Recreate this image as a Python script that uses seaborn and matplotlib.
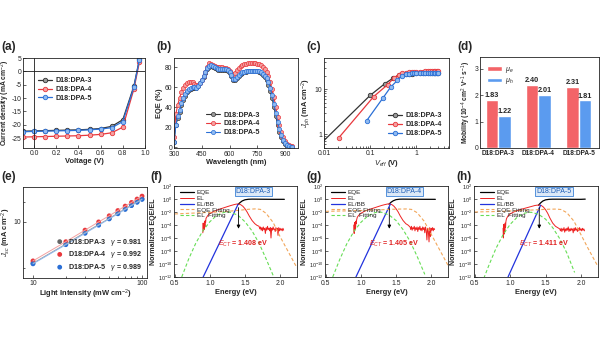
import numpy as np
import pandas as pd
import matplotlib
matplotlib.use("Agg")
import matplotlib.pyplot as plt
import seaborn as sns
from matplotlib.ticker import FixedLocator, NullFormatter, LogFormatterMathtext, NullLocator

# ---------------- data ----------------
blends = ['D18:DPA-3', 'D18:DPA-4', 'D18:DPA-5']

# (a) J-V
jv_voltage = [-0.1, 0.0, 0.1, 0.2, 0.3, 0.4, 0.5, 0.6, 0.7, 0.8, 0.9, 0.95]
jv_dpa3 = [-22.4, -22.3, -22.2, -22.1, -22.0, -21.9, -21.7, -21.4, -20.6, -18.1, -5.5, 4.6]
jv_dpa4 = [-24.6, -24.5, -24.4, -24.3, -24.2, -24.1, -23.9, -23.6, -23.0, -20.9, -6.6, 3.6]
jv_dpa5 = [-22.6, -22.5, -22.4, -22.3, -22.2, -22.1, -21.9, -21.6, -21.1, -18.8, -5.9, 4.4]

# (b) EQE
wavelength = list(range(300, 950, 10))
eqe_dpa3 = [5, 22, 29, 35, 42, 47, 51, 55, 57, 58,
            59, 59, 59, 61, 64, 67, 70, 74, 78, 80,
            81, 80, 79, 78, 77, 77, 77, 77, 77, 76,
            74, 71, 67, 67, 69, 71, 73, 74, 75, 75,
            76, 76, 76, 76, 76, 76, 75, 74, 72, 70,
            67, 62, 56, 49, 40, 31, 22, 15, 10, 6,
            3, 2, 1, 0.5, 0.3]
eqe_dpa4 = [10, 33, 42, 49, 55, 59, 62, 64, 65, 65,
            65, 63, 62, 62, 64, 67, 71, 75, 80, 84,
            83, 82, 81, 80, 80, 80, 80, 79, 79, 78,
            76, 74, 73, 74, 77, 79, 81, 82, 83, 83,
            84, 84, 84, 84, 84, 83, 83, 82, 80, 78,
            75, 71, 65, 58, 50, 40, 30, 22, 15, 10,
            6, 3, 2, 1, 1]
eqe_dpa5 = [5, 22, 31, 37, 44, 49, 53, 56, 58, 59,
            60, 60, 59, 61, 64, 67, 71, 75, 79, 81,
            82, 81, 80, 79, 78, 78, 78, 78, 78, 77,
            75, 72, 68, 68, 70, 72, 74, 75, 75, 76,
            76, 76, 76, 76, 76, 76, 76, 75, 73, 71,
            69, 65, 59, 52, 43, 34, 25, 18, 12, 7,
            4, 2, 1, 0.5, 0.3]

# (c) Jph - Veff
veff_plateau = [0.6, 0.7, 0.8, 0.9, 1.0, 1.2, 1.4, 1.6, 1.8, 2.0, 2.2, 2.4, 2.6, 2.8, 3.0]
veff_dpa3 = [0.01, 0.1, 0.21, 0.32, 0.42, 0.5] + veff_plateau
jph_dpa3 = [0.72, 7.2, 13.2, 17.6, 20.5, 21.5, 21.8, 22.0, 22.1, 22.2, 22.2, 22.3, 22.3,
            22.4, 22.4, 22.4, 22.5, 22.5, 22.5, 22.5, 22.6]
veff_dpa4 = [0.021, 0.12, 0.24, 0.33, 0.42, 0.5] + veff_plateau
jph_dpa4 = [0.83, 6.8, 12.5, 17.6, 21.0, 22.5, 23.2, 23.6, 23.9, 24.1, 24.2, 24.4, 24.5,
            24.6, 24.7, 24.8, 24.8, 24.9, 24.9, 25.0, 25.0]
veff_dpa5 = [0.085, 0.19, 0.28, 0.39, 0.49] + veff_plateau
jph_dpa5 = [2.0, 6.3, 11.0, 15.5, 19.5, 21.5, 22.0, 22.3, 22.5, 22.6, 22.7, 22.8, 22.9,
            23.0, 23.0, 23.1, 23.1, 23.2, 23.2, 23.2]

# (d) mobility
mu_e = [1.83, 2.40, 2.31]
mu_h = [1.22, 2.01, 1.81]

# (e) Jsc vs light intensity
light = [10, 20, 30, 40, 50, 60, 70, 80, 90, 100]
jsc_dpa3 = [2.35, 4.6, 6.9, 9.1, 11.3, 13.6, 15.8, 18.0, 20.2, 22.4]
jsc_dpa4 = [2.55, 5.0, 7.5, 10.0, 12.4, 14.9, 17.4, 19.8, 22.3, 24.7]
jsc_dpa5 = [2.3, 4.5, 6.7, 8.9, 11.1, 13.3, 15.5, 17.7, 19.9, 22.0]
gammas = ['0.981', '0.992', '0.989']

# (f)-(h) EQE / EL  (values as log10)
ect = [1.408, 1.405, 1.411]
el_E = ([0.900, 0.905, 0.910, 0.915, 0.920, 0.925, 0.930, 0.935, 0.940, 0.945, 0.950] +
        [0.97, 1.00, 1.05, 1.10, 1.15, 1.20, 1.25, 1.30, 1.35, 1.38, 1.41, 1.44, 1.47, 1.50,
         1.53, 1.56, 1.60, 1.64, 1.67] +
        list(np.round(np.arange(1.70, 2.055, 0.01), 3)))
f_el_log = ([-5.2, -3.7, -4.9, -3.9, -4.7, -3.5, -4.3, -3.3, -3.6, -3.0, -2.9] +
            [-2.55, -2.25, -1.95, -1.72, -1.52, -1.35, -1.17, -1.0, -0.85, -0.78, -0.77, -0.88,
             -1.12, -1.5, -2.0, -2.6, -3.3, -3.8, -4.05] +
            [-4.2, -4.6, -4.3, -4.8, -4.4, -4.9, -4.3, -4.7, -4.5, -5.3,
             -4.4, -4.8, -4.2, -4.7, -4.5, -4.9, -4.4, -6.0, -4.5, -4.8,
             -4.3, -4.7, -4.6, -5.0, -4.4, -4.8, -4.5, -5.6, -4.4, -4.9,
             -4.5, -4.8, -4.6, -4.9, -4.5, -4.8])
g_el_log = ([-4.0, -5.3, -3.6, -4.8, -3.9, -4.5, -3.4, -3.8, -3.2, -3.0, -2.8] +
            [-2.5, -2.2, -1.9, -1.68, -1.5, -1.33, -1.15, -0.98, -0.84, -0.77, -0.75, -0.85,
             -1.1, -1.48, -1.98, -2.6, -3.3, -3.8, -4.0] +
            [-4.3, -4.7, -4.2, -4.8, -4.4, -4.6, -4.2, -4.9, -4.4, -4.7,
             -4.3, -5.0, -4.4, -4.7, -4.2, -4.8, -4.5, -4.9, -4.3, -4.7,
             -4.4, -5.2, -4.3, -4.8, -6.3, -4.5, -4.9, -6.6, -4.4, -5.8,
             -4.5, -4.8, -4.4, -4.9, -4.5, -4.7])
h_el_log = ([-4.5, -6.0, -3.9, -5.4, -4.2, -5.0, -3.7, -4.4, -3.5, -3.2, -3.0] +
            [-2.6, -2.3, -2.0, -1.8, -1.6, -1.45, -1.3, -1.15, -1.0, -0.95, -0.93, -1.0,
             -1.25, -1.65, -2.2, -2.9, -3.7, -4.2, -4.4] +
            [-4.6, -4.9, -4.5, -5.0, -4.6, -4.8, -4.4, -5.1, -4.6, -4.9,
             -4.5, -4.8, -4.3, -5.0, -4.6, -4.9, -4.5, -4.8, -4.6, -5.2,
             -4.5, -4.9, -4.4, -4.8, -4.6, -5.0, -4.5, -4.9, -4.4, -4.8,
             -4.6, -4.9, -4.5, -4.8, -4.6, -4.9])

eqe_E = [1.40, 1.43, 1.46, 1.50, 1.55, 1.60, 1.70, 1.80, 1.90, 2.00, 2.06]
f_eqe_log = [-0.85, -0.55, -0.3, -0.12, -0.04, -0.02, -0.03, -0.04, -0.05, -0.05, -0.05]
g_eqe_log = [-0.8, -0.5, -0.28, -0.1, -0.03, -0.02, -0.03, -0.04, -0.05, -0.05, -0.05]
h_eqe_log = [-0.95, -0.6, -0.32, -0.13, -0.05, -0.03, -0.03, -0.04, -0.05, -0.05, -0.02]

f_bb_E, f_bb_log = [0.905, 1.40], [-12.0, -0.85]
g_bb_E, g_bb_log = [0.93, 1.42], [-12.0, -0.78]
h_bb_E, h_bb_log = [0.97, 1.43], [-12.0, -0.95]

eqefit_E = [0.50, 0.70, 0.90, 1.10, 1.30, 1.45, 1.55, 1.65, 1.72, 1.80, 1.90, 2.00, 2.10, 2.20, 2.24]
f_eqefit_log = [-2.3, -2.2, -2.1, -2.0, -1.85, -1.7, -1.58, -1.52, -1.6, -2.2, -3.6, -5.8, -7.8, -9.8, -10.6]
g_eqefit_log = [-1.9, -1.85, -1.8, -1.75, -1.65, -1.58, -1.55, -1.53, -1.6, -2.1, -3.4, -5.4, -7.4, -9.4, -10.2]
h_eqefit_log = [-2.0, -1.95, -1.9, -1.8, -1.7, -1.62, -1.57, -1.55, -1.62, -2.1, -3.4, -5.5, -7.6, -9.6, -10.4]

elfit_E = [0.60, 0.70, 0.80, 0.90, 1.00, 1.10, 1.20, 1.25, 1.30, 1.40, 1.50, 1.60, 1.70, 1.80, 1.91]
f_elfit_log = [-12.0, -9.2, -6.8, -4.9, -3.5, -2.5, -2.06, -2.0, -2.06, -2.5, -3.5, -4.9, -6.8, -9.2, -12.0]
g_elfit_log = [-12.0, -9.3, -6.9, -5.0, -3.6, -2.6, -2.1, -2.0, -2.05, -2.45, -3.3, -4.7, -6.5, -8.8, -11.6]
h_elfit_log = [-13.0, -10.2, -7.6, -5.5, -3.9, -2.8, -2.2, -2.05, -2.05, -2.35, -3.1, -4.4, -6.1, -8.3, -11.3]

# ---------------- style ----------------
sns.set_theme(style="ticks")
plt.rcParams['font.family'] = ['Liberation Sans', 'DejaVu Sans']
plt.rcParams['mathtext.fontset'] = 'custom'
plt.rcParams['mathtext.rm'] = 'Liberation Sans'
plt.rcParams['mathtext.it'] = 'Liberation Sans:italic'
plt.rcParams['mathtext.bf'] = 'Liberation Sans:bold'
plt.rcParams['axes.linewidth'] = 0.6

K, R, B = '#333333', '#e8383d', '#2a6fd6'
KF, RF, BF = '#9a9a9a', '#f4a0a0', '#8fbaf0'
TS = 4.9   # tick size
LS = 5.4   # label size

fig = plt.figure(figsize=(6, 3.38), dpi=100)


def ax_at(x0, y0, x1, y1):
    W, H = 600.0, 338.0
    return fig.add_axes([x0 / W, 1 - y1 / H, (x1 - x0) / W, (y1 - y0) / H])


def style(ax):
    ax.tick_params(which='both', direction='in', labelsize=TS, pad=1.2, width=0.5)
    ax.tick_params(which='major', length=2.2)
    ax.tick_params(which='minor', length=1.2)
    for s in ax.spines.values():
        s.set_linewidth(0.6)
        s.set_color('#222222')


def leg(ax, **kw):
    opts = dict(frameon=False, prop={'size': 5.1, 'weight': 'bold'}, handlelength=2.0,
                handletextpad=0.5, labelspacing=0.25, borderpad=0.2)
    opts.update(kw)
    return ax.legend(**opts)


series = [(blends[0], K, KF), (blends[1], R, RF), (blends[2], B, BF)]

# ---- (a)
ax = ax_at(23, 58, 145, 148)
for (name, c, fc), J in zip(series, [jv_dpa3, jv_dpa4, jv_dpa5]):
    sns.lineplot(x=jv_voltage, y=J, ax=ax, color=c, marker='o', markersize=3.2,
                 markerfacecolor=fc, markeredgecolor=c, markeredgewidth=0.6,
                 linewidth=0.9, label=name, sort=False)
ax.axhline(0, color='k', lw=0.6)
ax.axvline(0, color='k', lw=0.6)
ax.set_xlim(-0.1, 1.0)
ax.set_ylim(-28.7, 5)
ax.set_xticks([0.0, 0.2, 0.4, 0.6, 0.8, 1.0])
ax.set_xticklabels(['0.0', '0.2', '0.4', '0.6', '0.8', '1.0'])
ax.set_yticks([5, 0, -5, -10, -15, -20, -25])
ax.set_yticklabels(['5', '0', '-5', '-10', '-15', '-20', '-25'])
ax.set_xlabel('Voltage (V)', fontsize=LS, fontweight='bold', labelpad=1)
ax.set_ylabel('Current density (mA cm$^{-2}$)', fontsize=4.9, fontweight='bold')
ax.yaxis.set_label_coords(-0.088, 0.5)
style(ax)
leg(ax, loc='upper left', bbox_to_anchor=(0.08, 0.84))

# ---- (b)
ax = ax_at(174, 58, 298, 148)
for (name, c, fc), Q in zip(series, [eqe_dpa3, eqe_dpa4, eqe_dpa5]):
    sns.lineplot(x=wavelength, y=Q, ax=ax, color=c, marker='o', markersize=3.0,
                 markerfacecolor=fc, markeredgecolor=c, markeredgewidth=0.5,
                 linewidth=0.8, label=name)
ax.set_xlim(300, 970)
ax.set_ylim(-1, 89)
ax.set_xticks([300, 450, 600, 750, 900])
ax.set_yticks([0, 20, 40, 60, 80])
ax.set_xlabel('Wavelength (nm)', fontsize=LS, fontweight='bold', labelpad=1)
ax.set_ylabel('EQE (%)', fontsize=LS, fontweight='bold', labelpad=1)
style(ax)
ax.tick_params(axis='x', pad=2.0)
leg(ax, loc='upper left', bbox_to_anchor=(0.22, 0.46))

# ---- (c)
ax = ax_at(324, 58, 449, 148)
ax.set_xscale('log')
ax.set_yscale('log')
for (name, c, fc), V, J in zip(series, [veff_dpa3, veff_dpa4, veff_dpa5],
                               [jph_dpa3, jph_dpa4, jph_dpa5]):
    mev = slice(1, None) if name == blends[0] else None
    sns.lineplot(x=V, y=J, ax=ax, color=c, marker='o', markersize=3.2,
                 markerfacecolor=fc, markeredgecolor=c, markeredgewidth=0.6,
                 linewidth=0.9, label=name, markevery=mev)
ax.set_xlim(0.01, 5.2)
ax.set_ylim(0.49, 49)
ax.xaxis.set_major_locator(FixedLocator([0.01, 0.1, 1]))
ax.set_xticklabels(['0.01', '0.1', '1'])
ax.yaxis.set_major_locator(FixedLocator([1, 10]))
ax.set_yticklabels(['1', '10'])
ax.yaxis.set_minor_formatter(NullFormatter())
ax.xaxis.set_minor_formatter(NullFormatter())
ax.set_xlabel('$V_{eff}$ (V)', fontsize=LS, fontweight='bold', labelpad=1)
ax.set_ylabel('$J_{ph}$ (mA cm$^{-2}$)', fontsize=LS, fontweight='bold', labelpad=1)
style(ax)
leg(ax, loc='upper left', bbox_to_anchor=(0.47, 0.45))

# ---- (d)
ax = ax_at(480, 57, 599, 148)
df_mob = pd.DataFrame({'blend': blends + blends,
                       'mu': mu_e + mu_h,
                       'carrier': [r'$\mu_e$'] * 3 + [r'$\mu_h$'] * 3})
sns.barplot(data=df_mob, x='blend', y='mu', hue='carrier',
            palette=['#f36468', '#5b9bef'], width=0.62, ax=ax, saturation=1)
for cont in ax.containers:
    ax.bar_label(cont, fmt='%.2f', fontsize=5.2, padding=0.5, fontweight='bold')
ax.set_xlim(-0.45, 2.5)
ax.set_ylim(0, 3.45)
ax.set_yticks([0, 1, 2, 3])
ax.set_xlabel('')
ax.set_ylabel('Mobility (10$^{-4}$ cm$^{2}$ V$^{-1}$ s$^{-1}$)', fontsize=4.8,
              fontweight='bold', labelpad=1)
style(ax)
ax.tick_params(axis='x', labelsize=4.7)
for t in ax.get_xticklabels():
    t.set_fontweight('bold')
leg(ax, loc='upper left', bbox_to_anchor=(0.02, 0.97))

# ---- (e)
ax = ax_at(23, 187, 147, 278)
ax.set_xscale('log')
ax.set_yscale('log')
for (name, c, fc), J, gmm in zip(series, [jsc_dpa3, jsc_dpa4, jsc_dpa5], gammas):
    sns.lineplot(x=light, y=J, ax=ax, color=fc, linewidth=0.7)
    sns.scatterplot(x=light, y=J, ax=ax, color=c if c != K else '#666666', s=12,
                    edgecolor='none', label=f'{name}   $\\gamma$ = {gmm}')
ax.set_xlim(8.1, 111)
ax.set_ylim(1.4, 34)
ax.xaxis.set_major_locator(FixedLocator([10, 100]))
ax.set_xticklabels(['10', '100'])
ax.xaxis.set_minor_locator(FixedLocator([20, 30, 40, 50, 60, 70, 80, 90]))
ax.xaxis.set_minor_formatter(NullFormatter())
ax.yaxis.set_major_locator(FixedLocator([10]))
ax.set_yticklabels(['10'])
ax.yaxis.set_minor_locator(FixedLocator([2, 20]))
ax.yaxis.set_minor_formatter(NullFormatter())
ax.set_xlabel('Light Intensity (mW cm$^{-2}$)', fontsize=LS, fontweight='bold', labelpad=1)
ax.set_ylabel('$J_{sc}$ (mA cm$^{-2}$)', fontsize=LS, fontweight='bold', labelpad=0.5)
style(ax)
leg(ax, loc='lower right', bbox_to_anchor=(1.0, 0.0), handletextpad=0.2)

# ---- (f)-(h)
panels = [
    ((174, 186, 297, 277), f_el_log, f_eqe_log, f_bb_E, f_bb_log, f_eqefit_log, f_elfit_log),
    ((325, 186, 448, 277), g_el_log, g_eqe_log, g_bb_E, g_bb_log, g_eqefit_log, g_elfit_log),
    ((474, 186, 598, 277), h_el_log, h_eqe_log, h_bb_E, h_bb_log, h_eqefit_log, h_elfit_log),
]
for i, (box, el_log, eqe_log, bbE, bbL, efit, lfit) in enumerate(panels):
    ax = ax_at(*box)
    ax.set_yscale('log')
    sns.lineplot(x=eqe_E, y=np.power(10.0, eqe_log), ax=ax, color='black', lw=0.9, label='EQE')
    sns.lineplot(x=el_E, y=np.power(10.0, el_log), ax=ax, color='#ee2222', lw=0.7, label='EL')
    sns.lineplot(x=bbE, y=np.power(10.0, bbL), ax=ax, color='#2233dd', lw=0.9, label='EL/BB')
    sns.lineplot(x=eqefit_E, y=np.power(10.0, efit), ax=ax, color='#f2a65a', lw=0.8,
                 linestyle=(0, (3, 2)), label='EQE Fitting')
    sns.lineplot(x=elfit_E, y=np.power(10.0, lfit), ax=ax, color='#66dd55', lw=0.8,
                 linestyle=(0, (3, 2)), label='EL  Fitting')
    ax.set_xlim(0.49, 2.24)
    ax.set_ylim(1e-12, 1e2)
    ax.set_xticks([0.5, 1.0, 1.5, 2.0])
    ax.set_xticklabels(['0.5', '1.0', '1.5', '2.0'])
    ax.yaxis.set_major_locator(FixedLocator([10.0 ** k for k in range(-12, 3, 2)]))
    ax.yaxis.set_major_formatter(LogFormatterMathtext())
    ax.yaxis.set_minor_locator(NullLocator())
    ax.set_xlabel('Energy (eV)', fontsize=LS, fontweight='bold', labelpad=1)
    ax.set_ylabel('Normalized EQE/EL', fontsize=5.1, fontweight='bold', labelpad=0.5)
    style(ax)
    ax.tick_params(axis='y', labelsize=4.0, pad=1)
    ax.tick_params(axis='x', pad=2.5)
    e = ect[i]
    ax.annotate('', xy=(e, 10 ** -5.0), xytext=(e, 10 ** -0.9),
                arrowprops=dict(arrowstyle='-|>', color='black', lw=0.6, mutation_scale=5))
    ax.text(e + 0.07, 10 ** -6.9, f'$E_{{CT}}$ = {e:.3f} eV', color='#e02020', ha='center',
            va='center', fontsize=5.1, fontweight='bold')
    ax.text(1.62, 10 ** 1.1, blends[i], color='#1a5bb5', ha='center', va='center',
            fontsize=5.0, bbox=dict(boxstyle='square,pad=0.15', fc='#dce9f8', ec='#3b82d6', lw=0.6))
    ax.legend(frameon=False, prop={'size': 4.6}, handlelength=2.2, handletextpad=0.4,
              labelspacing=0.05, borderpad=0.1, loc='upper left', bbox_to_anchor=(0.02, 1.0))

# panel letters
for lab, x, y in [('(a)', 1, 47), ('(b)', 156, 47), ('(c)', 306, 47), ('(d)', 457, 47),
                  ('(e)', 1, 177), ('(f)', 150, 177), ('(g)', 306, 177), ('(h)', 456, 177)]:
    fig.text(x / 600, 1 - y / 338, lab, fontsize=8.5, fontweight='bold', va='center', ha='left')

fig.savefig('out.png', dpi=100)
